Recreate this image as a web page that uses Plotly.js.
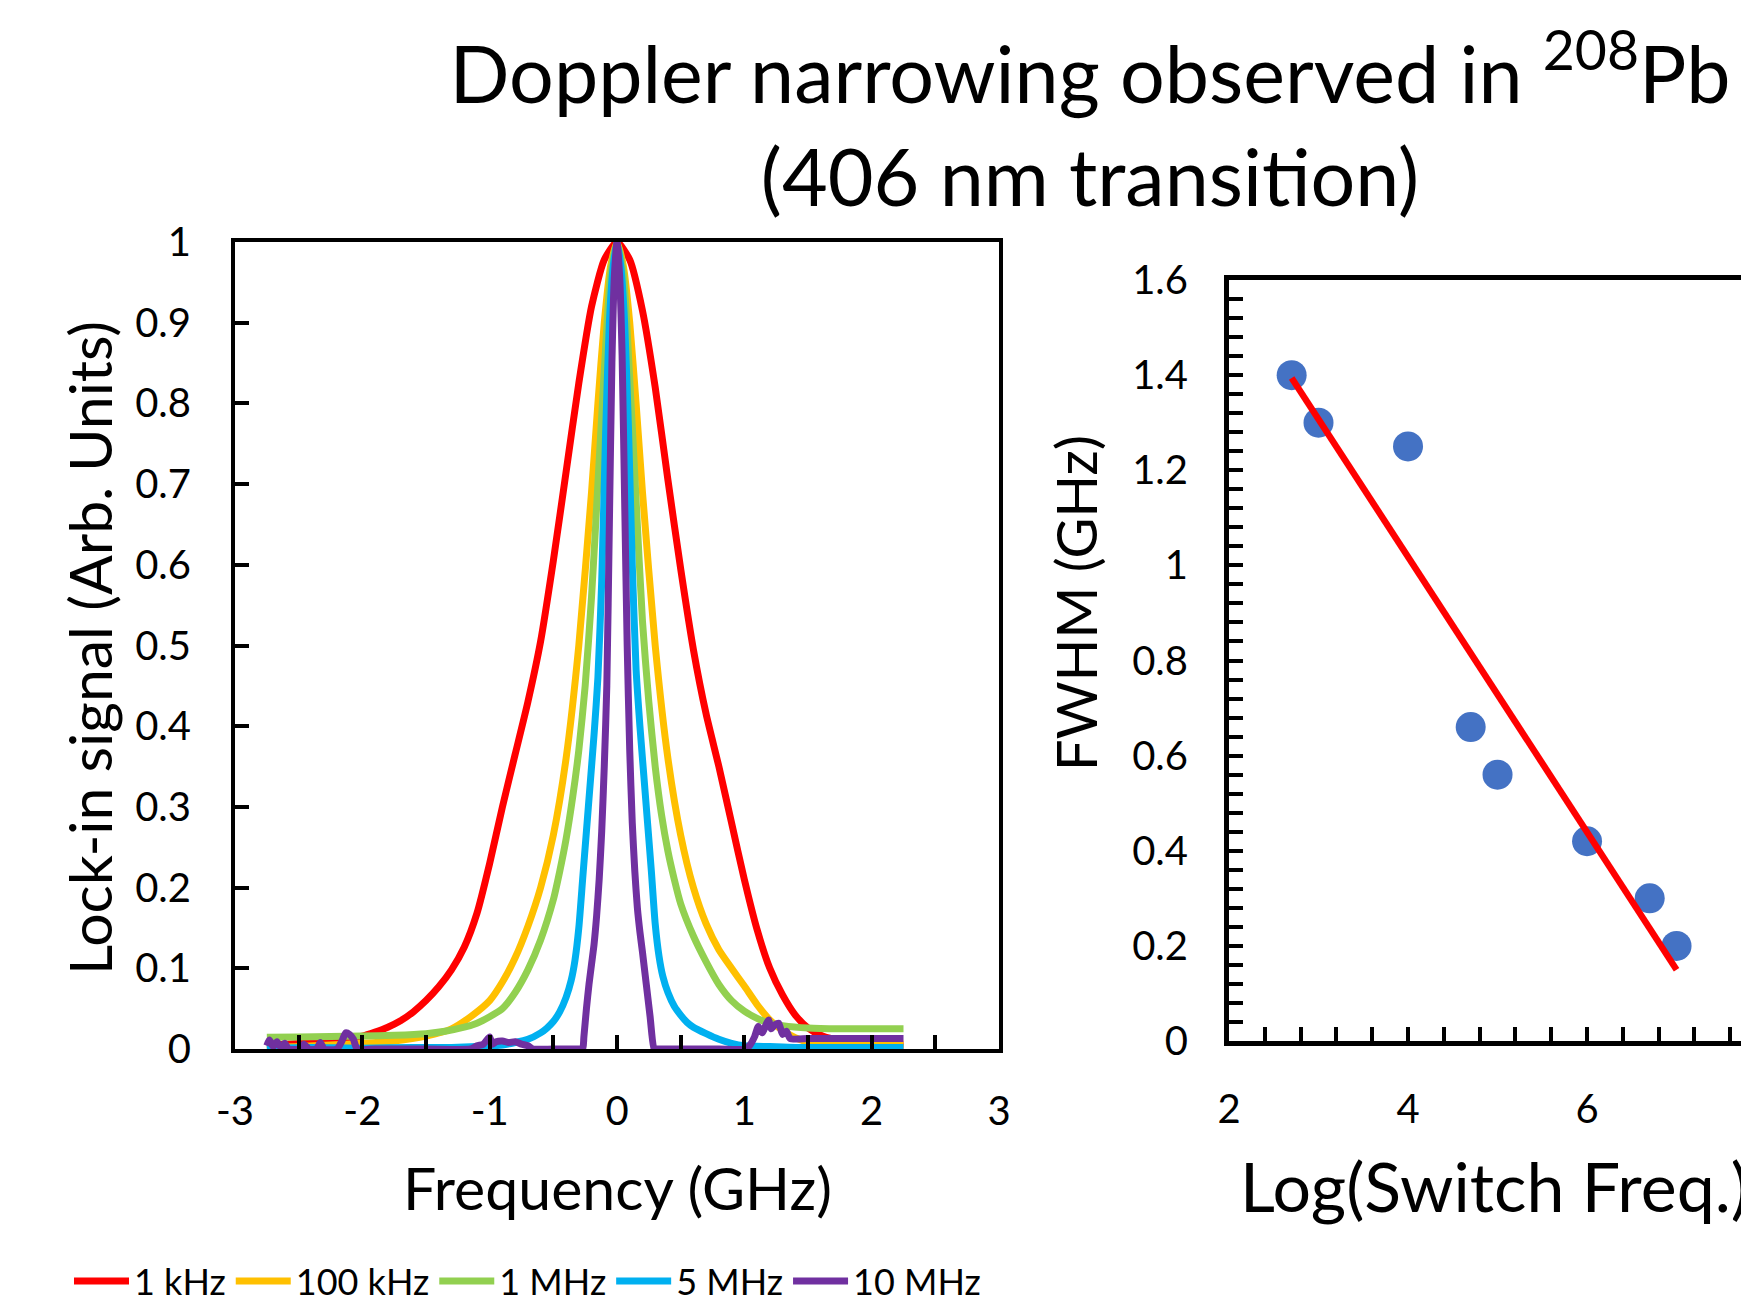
<!DOCTYPE html>
<html><head><meta charset="utf-8">
<script src="https://cdn.plot.ly/plotly-3.0.1.min.js"></script>
<style>html,body{margin:0;padding:0;background:#fff;overflow:hidden}#chart{width:1741px;height:1306px}</style>
</head><body><div id="chart"></div>
<script>
// ---- Left panel: lock-in signal vs frequency (GHz) ----
const seriesNames = ['1 kHz', '100 kHz', '1 MHz', '5 MHz', '10 MHz'];
const freqTickVals = [-3, -2, -1, 0, 1, 2, 3];
const freqTickText = ['-3', '-2', '-1', '0', '1', '2', '3'];

const redX = [-2.75,-2.6,-2.4,-2.2,-2.0,-1.9,-1.8,-1.7,-1.6,-1.5,-1.4,-1.3,-1.2,-1.1,-1.0,-0.9,-0.8,-0.7,-0.6,-0.5,-0.4,-0.3,-0.2,-0.1,0,0.1,0.2,0.3,0.4,0.5,0.6,0.7,0.8,0.9,1.0,1.1,1.2,1.3,1.4,1.5,1.6,1.7,1.8,2.0,2.25];
const redY = [0.005,0.006,0.008,0.011,0.016,0.021,0.027,0.035,0.046,0.06,0.077,0.098,0.126,0.168,0.23,0.3,0.365,0.43,0.505,0.605,0.715,0.825,0.92,0.978,1.0,0.978,0.915,0.82,0.705,0.595,0.495,0.415,0.35,0.28,0.21,0.148,0.1,0.067,0.042,0.026,0.017,0.012,0.009,0.006,0.004];

const orangeX = [-2.75,-2.5,-2.25,-2.0,-1.75,-1.5,-1.3,-1.15,-1.0,-0.9,-0.8,-0.7,-0.6,-0.5,-0.4,-0.3,-0.2,-0.15,-0.1,-0.05,0,0.05,0.1,0.15,0.2,0.3,0.4,0.5,0.6,0.7,0.8,0.9,1.0,1.1,1.2,1.3,1.4,1.5,1.75,2.0,2.25];
const orangeY = [0.002,0.003,0.005,0.007,0.01,0.016,0.025,0.04,0.06,0.083,0.113,0.152,0.2,0.265,0.36,0.5,0.69,0.8,0.9,0.97,1.0,0.97,0.9,0.8,0.69,0.5,0.36,0.265,0.2,0.155,0.123,0.1,0.078,0.055,0.036,0.023,0.014,0.009,0.007,0.006,0.006];

const greenX = [-2.75,-2.5,-2.25,-2.0,-1.75,-1.5,-1.35,-1.2,-1.1,-1.0,-0.9,-0.8,-0.7,-0.6,-0.5,-0.45,-0.4,-0.35,-0.3,-0.25,-0.2,-0.15,-0.1,-0.05,0,0.05,0.1,0.15,0.2,0.25,0.3,0.35,0.4,0.45,0.5,0.6,0.7,0.8,0.9,1.0,1.1,1.2,1.3,1.5,1.75,2.0,2.25];
const greenY = [0.0145,0.015,0.0155,0.016,0.017,0.019,0.022,0.027,0.032,0.04,0.05,0.07,0.098,0.135,0.185,0.22,0.26,0.31,0.37,0.45,0.56,0.7,0.84,0.96,1.0,0.96,0.83,0.68,0.53,0.43,0.35,0.29,0.245,0.21,0.18,0.14,0.108,0.08,0.06,0.047,0.038,0.032,0.029,0.026,0.025,0.025,0.025];

const blueX = [-2.75,-2.4,-2.0,-1.6,-1.3,-1.1,-1.0,-0.9,-0.8,-0.7,-0.6,-0.55,-0.5,-0.45,-0.4,-0.36,-0.33,-0.3,-0.27,-0.24,-0.21,-0.18,-0.15,-0.12,-0.09,-0.06,-0.03,0,0.03,0.06,0.09,0.12,0.15,0.18,0.21,0.24,0.27,0.3,0.33,0.36,0.4,0.45,0.5,0.55,0.6,0.7,0.8,0.9,1.0,1.2,1.4,1.7,2.0,2.25];
const blueY = [0.001,0.002,0.001,0.002,0.002,0.003,0.004,0.005,0.008,0.012,0.02,0.026,0.034,0.046,0.064,0.085,0.11,0.15,0.21,0.27,0.33,0.39,0.46,0.58,0.76,0.9,0.97,1.0,0.97,0.9,0.77,0.6,0.47,0.4,0.34,0.28,0.22,0.155,0.115,0.09,0.07,0.053,0.042,0.033,0.027,0.019,0.012,0.007,0.004,0.003,0.002,0.002,0.002,0.002];

const purpleX = [-2.75,-2.73,-2.7,-2.67,-2.64,-2.61,-2.58,-2.5,-2.46,-2.42,-2.36,-2.33,-2.3,-2.2,-2.16,-2.13,-2.1,-2.07,-2.04,-1.9,-1.5,-1.15,-1.1,-1.05,-1.0,-0.98,-0.95,-0.9,-0.85,-0.8,-0.75,-0.7,-0.66,-0.5,-0.3,-0.27,-0.26,-0.24,-0.22,-0.2,-0.18,-0.16,-0.14,-0.12,-0.1,-0.08,-0.06,-0.04,-0.02,0,0.02,0.04,0.06,0.08,0.1,0.12,0.14,0.16,0.18,0.2,0.23,0.26,0.29,0.3,0.5,0.8,1.0,1.04,1.08,1.11,1.14,1.17,1.19,1.21,1.24,1.27,1.3,1.33,1.36,1.5,1.8,2.0,2.25];
const purpleY = [0.004,0.011,0.003,0.009,0.002,0.007,0.0,0.0,0.006,0.0,0.0,0.008,0.0,0.0,0.01,0.02,0.018,0.012,0.0,0.0,0.0,0.0,0.004,0.006,0.015,0.006,0.009,0.01,0.008,0.009,0.006,0.004,0.0,0.0,0.0,0.0,0.015,0.05,0.08,0.105,0.13,0.165,0.21,0.27,0.35,0.45,0.65,0.85,0.96,1.0,0.96,0.86,0.68,0.5,0.37,0.28,0.22,0.175,0.145,0.12,0.08,0.04,0.0,0.0,0.0,0.0,0.0,0.004,0.015,0.028,0.02,0.03,0.036,0.025,0.03,0.032,0.018,0.022,0.013,0.013,0.013,0.013,0.013];

const seriesColors = ['#FF0000', '#FFC000', '#92D050', '#00B0F0', '#7030A0'];

// ---- Right panel: FWHM vs log(switch frequency) ----
const logSwitchFreq = [2.7, 3.0, 4.0, 4.7, 5.0, 6.0, 6.7, 7.0];
const fwhmGHz = [1.40, 1.30, 1.25, 0.66, 0.56, 0.42, 0.30, 0.20];
const fitX = [2.7, 7.0];
const fitY = [1.394, 0.150];

const FONT = 'Lato, "Open Sans", sans-serif';
const W = 1741, H = 1306;
const px = v => v / W;
const py = v => (H - v) / H;

const curveX = [redX, orangeX, greenX, blueX, purpleX];
const curveY = [redY, orangeY, greenY, blueY, purpleY];

const traces = curveX.map((xs, i) => ({
  type: 'scatter', mode: 'lines', x: xs, y: curveY[i], name: seriesNames[i],
  xaxis: 'x', yaxis: 'y',
  line: {color: seriesColors[i], width: 7, shape: 'spline', smoothing: 0.6}
}));

traces.push({
  type: 'scatter', mode: 'markers', x: logSwitchFreq, y: fwhmGHz, xaxis: 'x2', yaxis: 'y2',
  showlegend: false, marker: {color: '#4472C4', size: 30}, cliponaxis: false
});
traces.push({
  type: 'scatter', mode: 'lines', x: fitX, y: fitY, xaxis: 'x2', yaxis: 'y2',
  showlegend: false, line: {color: '#FF0000', width: 6.5}
});

const tickFont = {family: FONT, size: 40, color: '#000'};
const axBase = {
  showgrid: false, zeroline: false, showline: true, linecolor: '#000',
  ticks: 'inside', ticklen: 14, tickwidth: 4, tickcolor: '#000',
  tickfont: tickFont, automargin: false
};

const layout = {
  width: W, height: H,
  margin: {l: 0, r: 0, t: 0, b: 0, autoexpand: false},
  paper_bgcolor: '#fff', plot_bgcolor: '#fff',
  font: {family: FONT, color: '#000'},
  title: {
    text: 'Doppler narrowing observed in <sup>208</sup>Pb<br>(406 nm transition)',
    font: {family: FONT, size: 79, color: '#000'},
    xref: 'container', yref: 'container', x: px(1090), xanchor: 'center',
    y: 1 - 103 / H, yanchor: 'top', automargin: false
  },
  xaxis: Object.assign({}, axBase, {
    domain: [px(235), px(999)], range: [-3, 3], anchor: 'y',
    tickmode: 'array', tickvals: freqTickVals, ticktext: freqTickText,
    linewidth: 4, mirror: true, ticklabelstandoff: 24,
    minor: {tickmode: 'linear', tick0: 0, dtick: 0.5, ticks: 'inside', ticklen: 14, tickwidth: 4, tickcolor: '#000', showgrid: false}
  }),
  yaxis: Object.assign({}, axBase, {
    domain: [py(1049), py(242)], range: [0, 1], dtick: 0.1, tick0: 0, anchor: 'x',
    linewidth: 4, mirror: true, ticklabelstandoff: 32
  }),
  xaxis2: Object.assign({}, axBase, {
    domain: [px(1229), 1], range: [2, 7.72], dtick: 2, tick0: 2, anchor: 'y2',
    linewidth: 5, mirror: true, ticklabelstandoff: 29,
    minor: {dtick: 0.4, tick0: 2, ticks: 'inside', ticklen: 14, tickwidth: 4, tickcolor: '#000', showgrid: false}
  }),
  yaxis2: Object.assign({}, axBase, {
    domain: [py(1041), py(280)], range: [0, 1.6], dtick: 0.2, tick0: 0, anchor: 'x2',
    linewidth: 5, mirror: false, ticklabelstandoff: 28,
    minor: {dtick: 0.04, tick0: 0, ticks: 'inside', ticklen: 14, tickwidth: 4, tickcolor: '#000', showgrid: false}
  }),
  showlegend: true,
  legend: {
    orientation: 'h', x: px(69), xanchor: 'left', y: py(1281), yanchor: 'middle',
    font: {family: FONT, size: 36, color: '#000'}, bgcolor: 'rgba(0,0,0,0)',
    itemwidth: 55, tracegroupgap: 0, traceorder: 'normal'
  },
  annotations: [
    {text: 'Frequency (GHz)', xref: 'paper', yref: 'paper', x: px(617), y: py(1187),
     xanchor: 'center', yanchor: 'middle', showarrow: false, font: {family: FONT, size: 59, color: '#000'}},
    {text: 'Lock-in signal (Arb. Units)', xref: 'paper', yref: 'paper', x: px(89), y: py(648),
     xanchor: 'center', yanchor: 'middle', textangle: -90, showarrow: false, font: {family: FONT, size: 59, color: '#000'}},
    {text: 'FWHM (GHz)', xref: 'paper', yref: 'paper', x: px(1075), y: py(603),
     xanchor: 'center', yanchor: 'middle', textangle: -90, showarrow: false, font: {family: FONT, size: 56, color: '#000'}},
    {text: 'Log(Switch Freq.)', xref: 'paper', yref: 'paper', x: px(1238), y: py(1185),
     xanchor: 'left', yanchor: 'middle', showarrow: false, font: {family: FONT, size: 68, color: '#000'}}
  ]
};

Plotly.newPlot('chart', traces, layout, {displayModeBar: false, staticPlot: true});
</script></body></html>
